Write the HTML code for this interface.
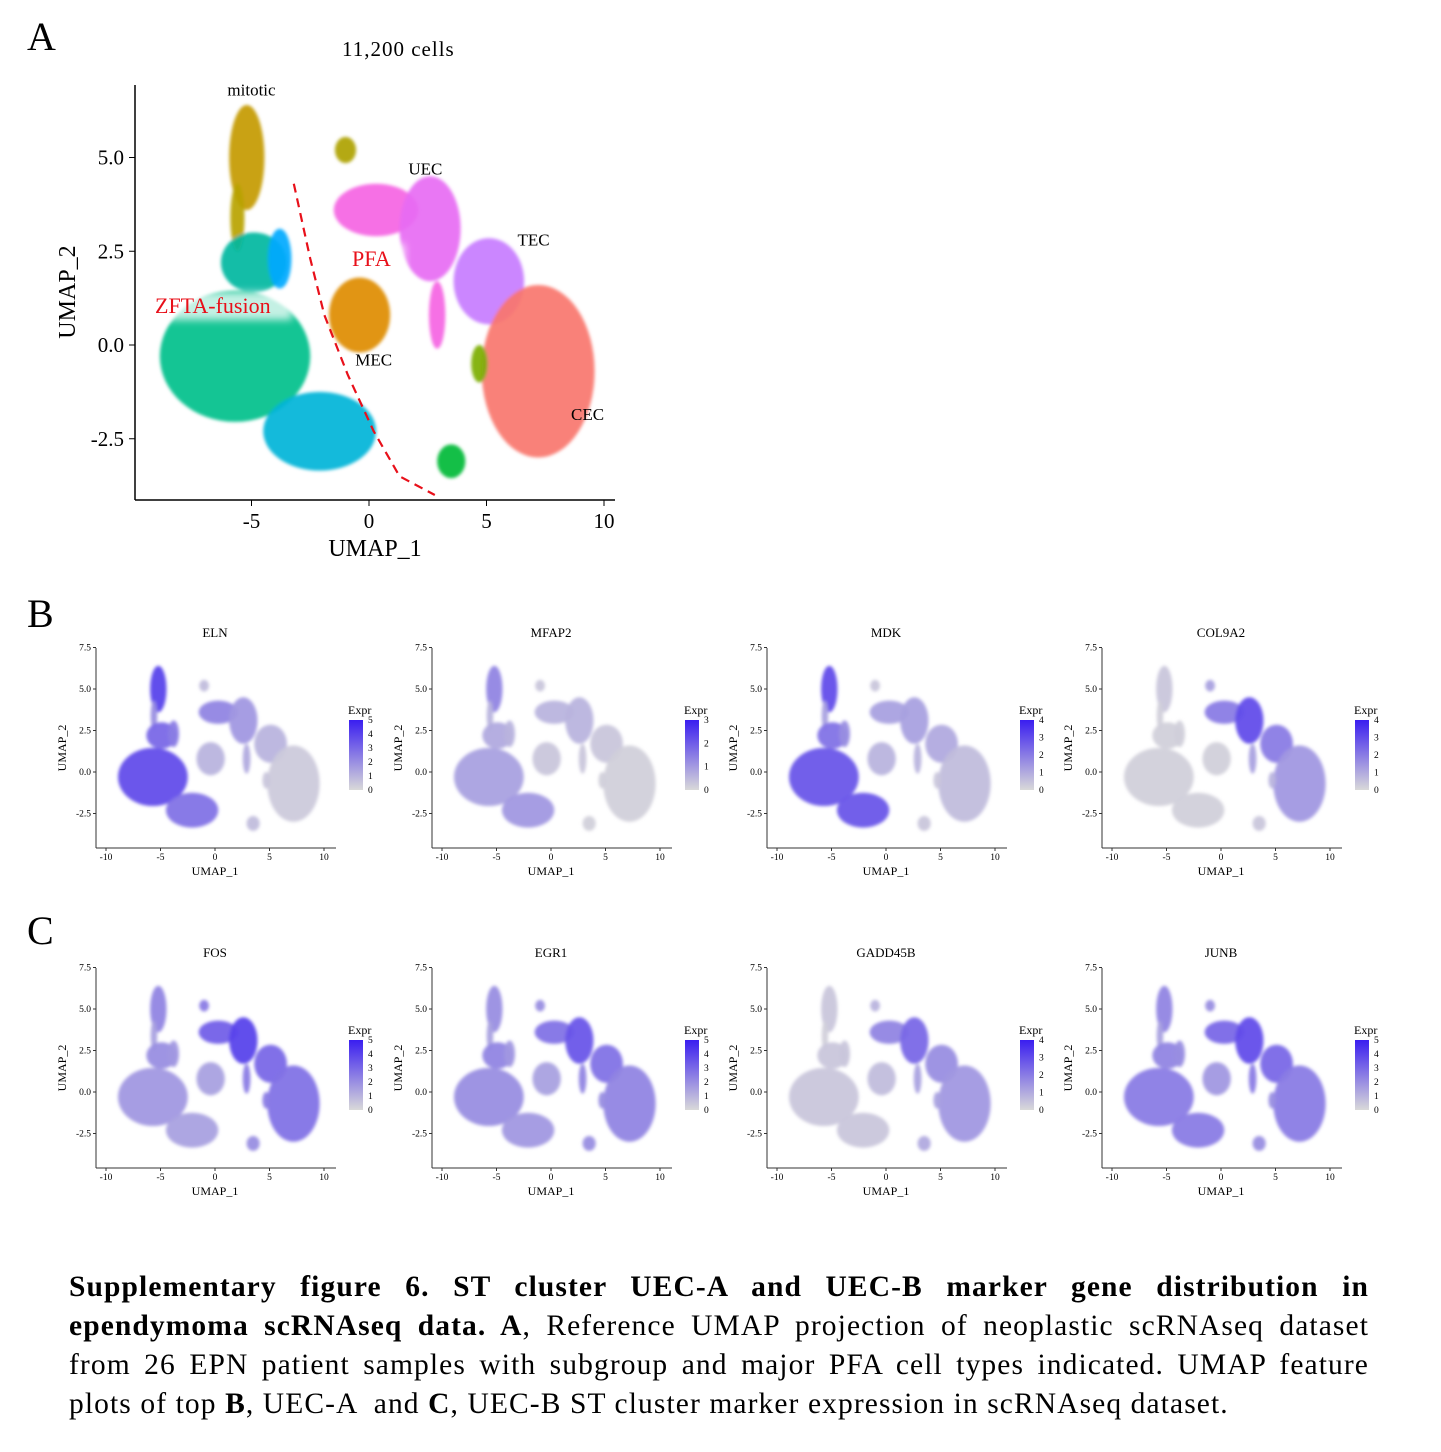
<!DOCTYPE html>
<html><head><meta charset="utf-8">
<style>
body{margin:0;background:#fff;width:1441px;height:1452px;position:relative;overflow:hidden;font-family:"Liberation Serif",serif}
svg{position:absolute;left:0;top:0}
#cap{position:absolute;left:69px;top:1268px;width:1300px;font-size:29.5px;line-height:39px;color:#000;letter-spacing:1.1px}
#cap .ln{text-align:justify;text-align-last:justify;height:39px}
#cap .last{text-align:left;text-align-last:left;white-space:nowrap}
</style></head><body>
<svg id="fig" width="1441" height="1452" xmlns="http://www.w3.org/2000/svg">
<defs>
<filter id="bs" x="-30%" y="-30%" width="160%" height="160%"><feGaussianBlur stdDeviation="1.5"/></filter>
<filter id="glow" x="-20%" y="-50%" width="140%" height="200%"><feGaussianBlur stdDeviation="4"/></filter>
<linearGradient id="cb" x1="0" y1="1" x2="0" y2="0"><stop offset="0" stop-color="#d9d9d9"/><stop offset="1" stop-color="#3a1ef0"/></linearGradient>
</defs>
<g id="root"></g>
</svg>
<div id="cap">
<div class="ln"><b>Supplementary figure 6. ST cluster UEC-A and UEC-B marker gene distribution in</b></div>
<div class="ln"><b>ependymoma scRNAseq data. A</b>, Reference UMAP projection of neoplastic scRNAseq dataset</div>
<div class="ln">from 26 EPN patient samples with subgroup and major PFA cell types indicated. UMAP feature</div>
<div class="ln last">plots of top <b>B</b>, UEC-A &nbsp;and <b>C</b>, UEC-B ST cluster marker expression in scRNAseq dataset.</div>
</div>
<script>
// cluster definitions in UMAP coordinates
const clusterNames=["mitotic","mitoticTail","zftaMain","zftaUpper","lightBlue","cyanBottom","mec","olive","pink","uec","uecTail","tec","cec","limeStrip","greenBottom"];
const clusterX=[-5.2,-5.6,-5.7,-4.9,-3.8,-2.1,-0.4,-1.0,0.3,2.6,2.9,5.1,7.2,4.7,3.5];
const clusterY=[5.0,3.4,-0.3,2.2,2.3,-2.3,0.8,5.2,3.6,3.1,0.8,1.7,-0.7,-0.5,-3.1];
const clusterRX=[0.75,0.3,3.2,1.4,0.5,2.4,1.3,0.45,1.8,1.3,0.35,1.5,2.4,0.35,0.6];
const clusterRY=[1.4,0.9,1.75,0.8,0.8,1.05,1.0,0.35,0.7,1.4,0.9,1.15,2.3,0.5,0.45];
const clusterColors=["#c49a00","#b9a300","#00c08b","#00b7a0","#00a9ff","#00b4d8","#de8c00","#aea200","#f564e3","#e76bf3","#f564e3","#c77cff","#f8766d","#7cae00","#00ba38"];
// expression (0..1) per cluster for each gene
const geneNames=["ELN","MFAP2","MDK","COL9A2","FOS","EGR1","GADD45B","JUNB"];
const geneMax=[5,3,4,4,5,5,4,5];
const exprELN=[0.8,0.4,0.75,0.6,0.5,0.55,0.2,0.15,0.45,0.35,0.25,0.2,0.08,0.1,0.15];
const exprMFAP2=[0.45,0.2,0.3,0.25,0.2,0.35,0.1,0.1,0.2,0.2,0.1,0.1,0.05,0.05,0.05];
const exprMDK=[0.75,0.3,0.7,0.55,0.4,0.7,0.2,0.1,0.3,0.3,0.2,0.25,0.15,0.1,0.1];
const exprCOL9A2=[0.1,0.05,0.05,0.05,0.05,0.05,0.05,0.3,0.5,0.75,0.3,0.5,0.35,0.2,0.1];
const exprFOS=[0.45,0.3,0.35,0.4,0.35,0.3,0.3,0.5,0.65,0.8,0.5,0.6,0.55,0.5,0.4];
const exprEGR1=[0.4,0.3,0.4,0.45,0.35,0.35,0.3,0.4,0.55,0.7,0.45,0.55,0.45,0.4,0.4];
const exprGADD45B=[0.1,0.05,0.1,0.1,0.1,0.1,0.15,0.2,0.45,0.6,0.3,0.4,0.35,0.3,0.25];
const exprJUNB=[0.45,0.3,0.5,0.45,0.4,0.5,0.35,0.4,0.6,0.75,0.5,0.6,0.5,0.4,0.4];
const geneExpr=[exprELN,exprMFAP2,exprMDK,exprCOL9A2,exprFOS,exprEGR1,exprGADD45B,exprJUNB];
const bigXTicks=[-5,0,5,10];
const bigYTicks=["5.0","2.5","0.0","-2.5"];
const smallXTicks=[-10,-5,0,5,10];
const smallYTicks=["7.5","5.0","2.5","0.0","-2.5"];
// cluster label positions (UMAP)
const labelNames=["mitotic","UEC","TEC","MEC","CEC"];
const labelX=[-5.0,2.4,7.0,0.2,9.3];
const labelY=[6.65,4.55,2.65,-0.55,-2.0];
// boundary curve points (UMAP)
const curveX=[-3.2,-2.5,-1.9,-0.9,0.2,1.3,2.8];
const curveY=[4.3,2.3,0.8,-0.8,-2.3,-3.5,-4.0];

const NS="http://www.w3.org/2000/svg";
const root=document.getElementById('root');
function mk(tag,attrs,parent,text){const e=document.createElementNS(NS,tag);for(const k in attrs)e.setAttribute(k,attrs[k]);if(text!==undefined)e.textContent=text;(parent||root).appendChild(e);return e;}
function mix(t){const a=[217,217,217],b=[58,30,240];return `rgb(${a.map((v,i)=>Math.round(v+(b[i]-v)*t)).join(',')})`;}

// ---------- Panel A ----------
const ax=u=>369+u*23.5, ay=v=>345-v*37.5;
const gA=mk('g',{});


const t=mk('text',{x:27,y:50,'font-size':40},gA,'A');

const tt=mk('text',{x:342,y:56,'font-size':21,'letter-spacing':'1px'},gA,'11,200 cells');

const cg=mk('g',{filter:'url(#bs)'},gA);
clusterNames.forEach((n,i)=>{
  const e=mk('ellipse',{cx:ax(clusterX[i]),cy:ay(clusterY[i]),rx:clusterRX[i]*23.5,ry:clusterRY[i]*37.5,fill:clusterColors[i],opacity:0.92},cg);
  
  
});
mk('line',{x1:135,y1:85,x2:135,y2:500,stroke:'#000','stroke-width':1.5},gA);
mk('line',{x1:135,y1:500,x2:615,y2:500,stroke:'#000','stroke-width':1.5},gA);
bigXTicks.forEach(v=>{mk('line',{x1:ax(v),y1:500,x2:ax(v),y2:506,stroke:'#000'},gA);
  const l=mk('text',{x:ax(v),y:528,'font-size':21,'text-anchor':'middle'},gA,String(v));
  });
bigYTicks.forEach(s=>{const v=parseFloat(s);mk('line',{x1:129,y1:ay(v),x2:135,y2:ay(v),stroke:'#000'},gA);
  const l=mk('text',{x:124,y:ay(v)+7,'font-size':21,'text-anchor':'end'},gA,s);
  });
const xt=mk('text',{x:375,y:556,'font-size':24,'text-anchor':'middle'},gA,'UMAP_1');

const yt=mk('text',{x:75,y:292,'font-size':24,'text-anchor':'middle',transform:'rotate(-90 75 292)'},gA,'UMAP_2');

labelNames.forEach((s,i)=>{const l=mk('text',{x:ax(labelX[i]),y:ay(labelY[i]),'font-size':17,'text-anchor':'middle'},gA,s);
  });
let d='';curveX.forEach((u,i)=>{d+=(i?'L':'M')+ax(u)+','+ay(curveY[i]);});
const cv=mk('path',{d:d,fill:'none',stroke:'#e8101a','stroke-width':2.2,'stroke-dasharray':'9,6'},gA);

mk('rect',{x:345,y:244,width:60,height:28,fill:'#fff',opacity:0.75,filter:'url(#glow)'},gA);
mk('rect',{x:152,y:292,width:140,height:28,fill:'#fff',opacity:0.75,filter:'url(#glow)'},gA);
const p1=mk('text',{x:352,y:266,'font-size':22,fill:'#e8101a'},gA,'PFA');

const p2=mk('text',{x:155,y:313,'font-size':22,fill:'#e8101a'},gA,'ZFTA-fusion');


// ---------- Panels B & C ----------
[['B',613],['C',930]].forEach(([s,y])=>{const l=mk('text',{x:27,y:y+14,'font-size':40},root,s);
  });
geneNames.forEach((g,gi)=>{
  const ox=[0,336,671,1006][gi%4], oy=gi<4?0:320;
  const fx=u=>ox+215+u*10.9, fy=v=>oy+772-v*16.6;
  const G=mk('g',{});
  
  
  const ti=mk('text',{x:ox+215,y:oy+637,'font-size':13,'text-anchor':'middle'},G,g);
  
  const cgp=mk('g',{filter:'url(#bs)'},G);
  clusterNames.forEach((n,i)=>{
    const e=mk('ellipse',{cx:fx(clusterX[i]),cy:fy(clusterY[i]),rx:clusterRX[i]*10.9,ry:clusterRY[i]*16.6,fill:mix(geneExpr[gi][i]),opacity:0.95},cgp);
    
    
  });
  mk('line',{x1:ox+96,y1:oy+648,x2:ox+96,y2:oy+848,stroke:'#333'},G);
  mk('line',{x1:ox+96,y1:oy+848,x2:ox+336,y2:oy+848,stroke:'#333'},G);
  smallXTicks.forEach(v=>{mk('line',{x1:fx(v),y1:oy+848,x2:fx(v),y2:oy+851,stroke:'#333'},G);
    const l=mk('text',{x:fx(v),y:oy+860,'font-size':9.5,'text-anchor':'middle'},G,String(v));
    });
  smallYTicks.forEach(s=>{const v=parseFloat(s);mk('line',{x1:ox+93,y1:fy(v),x2:ox+96,y2:fy(v),stroke:'#333'},G);
    const l=mk('text',{x:ox+91,y:fy(v)+3,'font-size':9.5,'text-anchor':'end'},G,s);
    });
  const xl=mk('text',{x:ox+215,y:oy+875,'font-size':12,'text-anchor':'middle'},G,'UMAP_1');
  
  const yl=mk('text',{x:ox+66,y:oy+748,'font-size':12,'text-anchor':'middle',transform:`rotate(-90 ${ox+66} ${oy+748})`},G,'UMAP_2');
  
  const lg=mk('g',{},G);
  
  mk('text',{x:ox+348,y:oy+714,'font-size':12},lg,'Expr');
  mk('rect',{x:ox+349,y:oy+720,width:14,height:70,fill:'url(#cb)'},lg);
  const mx=geneMax[gi];
  for(let k=0;k<=mx;k++){const yy=oy+790-k*70/mx;
    mk('text',{x:ox+368,y:yy+3,'font-size':9.5},lg,String(k));}
});
</script>
</body></html>
